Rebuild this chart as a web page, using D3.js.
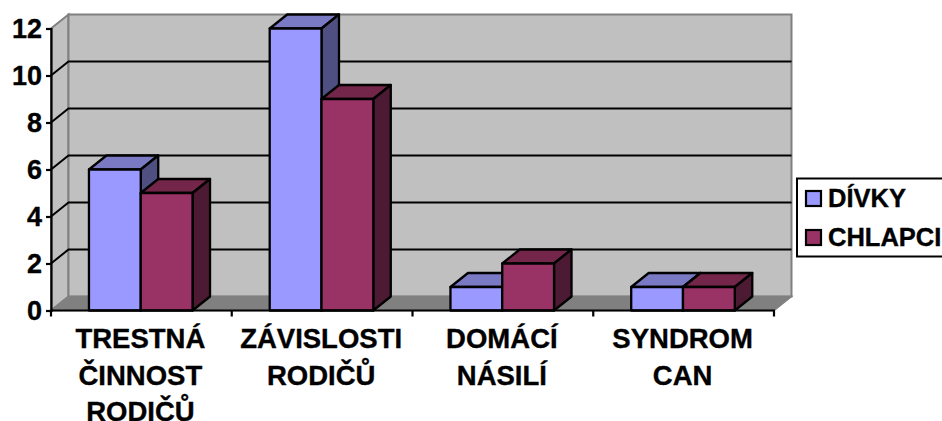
<!DOCTYPE html>
<html><head><meta charset="utf-8">
<script src="https://cdn.jsdelivr.net/npm/d3@7"></script>
<style>html,body{margin:0;padding:0;background:#fff}svg{display:block}
text{font-family:"Liberation Sans",Arial,sans-serif;font-weight:bold;fill:#000;stroke:#000;stroke-width:0.35px}</style>
</head><body><svg id="c" width="942" height="421"></svg>
<script>
const categories = [["TRESTNÁ","ČINNOST","RODIČŮ"],["ZÁVISLOSTI","RODIČŮ"],["DOMÁCÍ","NÁSILÍ"],["SYNDROM","CAN"]];
const seriesNames = ["DÍVKY","CHLAPCI"];
const divky = [6,12,1,1];
const chlapci = [5,9,2,1];
const yTicks = [0,2,4,6,8,10,12];
const frontColors = ["#9999ff","#993366"];
const topColors = ["#7a7ac4","#732649"];
const sideColors = ["#4f4f82","#4c1a33"];

const svg = d3.select("#c");
const dx = 17.5, dy = -14;
const x = d3.scaleBand().domain(d3.range(categories.length)).range([51,774]);
const y = d3.scaleLinear().domain([0,12]).range([310.5,28.5]);
const L = x.range()[0], R = x.range()[1], B = y(0), T = y(12);
const P = a => a.map(p => p.join(",")).join(" ");

// walls
svg.append("polygon").attr("points",P([[L,B],[L+dx,B+dy],[L+dx,T+dy],[L,T]])).attr("fill","#c0c0c0").attr("stroke","#808080").attr("stroke-width",2);
svg.append("rect").attr("x",L+dx).attr("y",T+dy).attr("width",R-L).attr("height",B-T).attr("fill","#c0c0c0").attr("stroke","#808080").attr("stroke-width",2);
svg.append("polygon").attr("points",P([[L,B],[L+dx,B+dy],[R+dx,B+dy],[R,B]])).attr("fill","#808080").attr("stroke","#808080").attr("stroke-width",1.5);

// gridlines
const g = svg.append("g");
yTicks.filter(t=>t>0&&t<12).forEach(t=>{
  g.append("path").attr("d",`M${L},${y(t)}L${L+dx},${y(t)+dy}L${R+dx},${y(t)+dy}`).attr("fill","none").attr("stroke","#000").attr("stroke-width",2);
});

// bars
const barW = x.bandwidth()*0.2865, inset = x.bandwidth()*0.21;
const sw = 2.3;
[divky,chlapci].forEach((vals,s)=>{
  vals.forEach((v,i)=>{
    const x0 = x(i)+inset+s*barW, x2 = x0+barW, yt = y(v);
    const bar = svg.append("g").attr("stroke","#000").attr("stroke-width",sw).attr("stroke-linejoin","round");
    bar.append("polygon").attr("points",P([[x0,yt],[x0+dx,yt+dy],[x2+dx,yt+dy],[x2,yt]])).attr("fill",topColors[s]);
    bar.append("polygon").attr("points",P([[x2,yt],[x2+dx,yt+dy],[x2+dx,B+dy],[x2,B]])).attr("fill",sideColors[s]);
    bar.append("rect").attr("x",x0).attr("y",yt).attr("width",barW).attr("height",B-yt).attr("fill",frontColors[s]);
  });
});

// axes
const yAxis = d3.axisLeft(y).tickValues(yTicks).tickSize(5).tickPadding(4).tickFormat(d3.format("d"));
const ya = svg.append("g").attr("transform",`translate(${L},0)`).call(yAxis);
ya.selectAll("path,line").attr("stroke","#000").attr("stroke-width",2.2);
ya.selectAll("text").attr("font-size",27).attr("dy","0.33em");
svg.append("line").attr("x1",L-1).attr("x2",R+1).attr("y1",B).attr("y2",B).attr("stroke","#000").attr("stroke-width",2.2);
const xt = svg.append("g");
d3.range(categories.length+1).forEach(i=>{
  const px = i<categories.length ? x(i) : R;
  xt.append("line").attr("x1",px).attr("x2",px).attr("y1",B).attr("y2",B+6).attr("stroke","#000").attr("stroke-width",2.2);
});
categories.forEach((lines,i)=>{
  const cx = x(i)+x.bandwidth()/2-1;
  const t = svg.append("text").attr("text-anchor","middle").attr("font-size",27.5).attr("x",cx);
  lines.forEach((l,j)=>t.append("tspan").attr("x",cx).attr("y",348+j*36.5).text(l));
});

// legend
svg.append("rect").attr("x",797).attr("y",178.5).attr("width",160).attr("height",78).attr("fill","#fff").attr("stroke","#000").attr("stroke-width",2);
seriesNames.forEach((n,i)=>{
  const cy = 198+i*39;
  svg.append("rect").attr("x",806).attr("y",cy-7).attr("width",15).attr("height",15).attr("fill",frontColors[i]).attr("stroke","#000").attr("stroke-width",2.2);
  svg.append("text").attr("x",828).attr("y",cy+8.5).attr("font-size",25.5).text(n);
});
</script></body></html>
